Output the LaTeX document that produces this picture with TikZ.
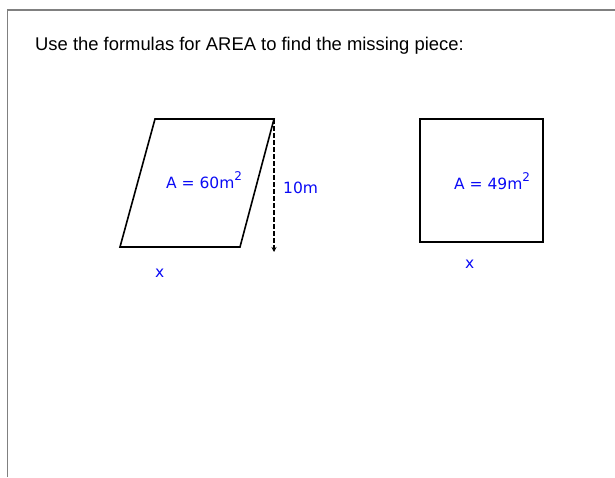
\documentclass[tikz,border=0pt]{standalone}
\usepackage{fontspec}
\setmainfont{Liberation Sans}
\newfontfamily\lbl{DejaVu Sans}
\usetikzlibrary{arrows.meta}
\definecolor{lblblue}{RGB}{10,10,245}
\newcommand{\supsq}{\raisebox{0.5em}{\fontsize{12}{13}\selectfont 2}}
\begin{document}
\begin{tikzpicture}[x=1pt,y=-1pt,
  shapeline/.style={draw=black,line width=1.6pt,line join=miter},
  lbltext/.style={text=lblblue,font=\lbl\fontsize{15.5}{18}\selectfont,inner sep=0pt,anchor=base west},
  frame/.style={draw={rgb,255:red,128;green,128;blue,128},line width=1.5pt}]
\useasboundingbox (0,0) rectangle (615,477);
% frame
\coordinate (f1) at (7.5,477);
\coordinate (f2) at (7.5,10);
\coordinate (f3) at (615,10);
\draw[frame] (f1) -- (f2) -- (f3);
% title
\node[inner sep=0pt,anchor=base west,font=\fontsize{18.4}{21}\selectfont] (title) at (35,50) {Use the formulas for AREA to find the missing piece:};
% parallelogram
\coordinate (p1) at (155,119);
\coordinate (p2) at (274,119);
\coordinate (p3) at (240,247);
\coordinate (p4) at (120,247);
\draw[shapeline] (p1) -- (p2) -- (p3) -- (p4) -- cycle;
\coordinate (h1) at (274,119);
\coordinate (h2) at (274,252);
\draw[line width=1.6pt,dash pattern=on 4.5pt off 2.5pt,-{Stealth[length=5pt,width=5pt]}] (h1) -- (h2);
\node[lbltext] (a1) at (166,188) {A = 60m\supsq};
\node[lbltext] (h) at (283,193) {10m};
\node[lbltext] (x1) at (155,277) {x};
% square
\node[shapeline,minimum width=123pt,minimum height=123pt,inner sep=0pt,anchor=north west] (sq) at (419,118) {};
\node[lbltext] (a2) at (454,189) {A = 49m\supsq};
\node[lbltext] (x2) at (465,268) {x};
\end{tikzpicture}
\end{document}
